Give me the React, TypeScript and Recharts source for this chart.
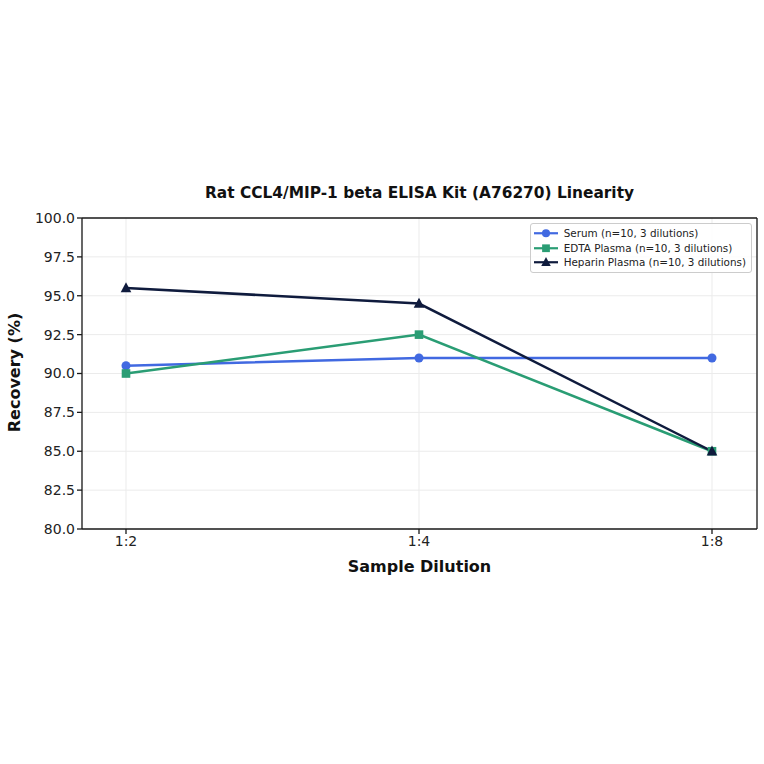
import React from 'react';
import { LineChart, Line, XAxis, YAxis, CartesianGrid, ReferenceLine } from 'recharts';

const dilutions = ['1:2', '1:4', '1:8'];
const serum = [90.5, 91.0, 91.0];
const edta = [90.0, 92.5, 85.0];
const heparin = [95.5, 94.5, 85.0];
const yTicks = [80, 82.5, 85, 87.5, 90, 92.5, 95, 97.5, 100];

const data = dilutions.map((d, i) => ({
  dilution: d,
  serum: serum[i],
  edta: edta[i],
  heparin: heparin[i],
}));

const SERIES = [
  { key: 'serum', name: 'Serum (n=10, 3 dilutions)', color: '#4169E1', shape: 'circle' },
  { key: 'edta', name: 'EDTA Plasma (n=10, 3 dilutions)', color: '#2A9D74', shape: 'square' },
  { key: 'heparin', name: 'Heparin Plasma (n=10, 3 dilutions)', color: '#0F1B3D', shape: 'triangle' },
];

const FONT = '"DejaVu Sans", sans-serif';
const AXIS = { stroke: '#1a1a1a', strokeWidth: 1.3 };

const Marker = ({ cx, cy, shape, color, s = 1 }: any) => {
  if (cx == null || cy == null) return null;
  if (shape === 'square') {
    return <rect x={cx - 4.3 * s} y={cy - 4.3 * s} width={8.6 * s} height={8.6 * s} fill={color} />;
  }
  if (shape === 'triangle') {
    return (
      <polygon
        points={`${cx},${cy - 5.8 * s} ${cx - 5.3 * s},${cy + 4.2 * s} ${cx + 5.3 * s},${cy + 4.2 * s}`}
        fill={color}
      />
    );
  }
  return <circle cx={cx} cy={cy} r={4.5 * s} fill={color} />;
};

// legend drawn as an overlay so it doesn't shrink the plot area
const LegendBox = () => (
  <div
    style={{
      position: 'absolute',
      top: 223,
      right: 12,
      border: '1px solid #cccccc',
      borderRadius: 3,
      background: 'rgba(255,255,255,0.85)',
      padding: '2px 5px 2px 2px',
      fontFamily: FONT,
      fontSize: 10.4,
      color: '#222',
      lineHeight: '14.5px',
    }}
  >
    {SERIES.map((s) => (
      <div key={s.key} style={{ display: 'flex', alignItems: 'center' }}>
        <svg width={26} height={14.5} style={{ marginRight: 5 }}>
          <line x1={1} y1={7.25} x2={25} y2={7.25} stroke={s.color} strokeWidth={2.2} />
          <Marker cx={13} cy={7.25} shape={s.shape} color={s.color} s={0.9} />
        </svg>
        <span>{s.name}</span>
      </div>
    ))}
  </div>
);

export default function App() {
  return (
    <div style={{ position: 'absolute', left: 0, top: 0, width: 764, height: 764, background: '#fff' }}>
      <LineChart
        width={764}
        height={764}
        data={data}
        margin={{ top: 218, right: 6, bottom: 205, left: 22 }}
      >
        <CartesianGrid stroke="#ebebeb" strokeWidth={1} />
        <XAxis
          dataKey="dilution"
          padding={{ left: 44, right: 45 }}
          height={30}
          tick={{ fill: '#222', fontSize: 14, fontFamily: FONT }}
          tickLine={AXIS}
          axisLine={AXIS}
          tickSize={5}
        />
        <YAxis
          domain={[80, 100]}
          ticks={yTicks}
          width={60}
          tickFormatter={(v: number) => v.toFixed(1)}
          tick={{ fill: '#222', fontSize: 14, fontFamily: FONT }}
          tickLine={AXIS}
          axisLine={AXIS}
          tickSize={5}
          interval={0}
        />
        {/* right-hand frame edge */}
        <YAxis
          yAxisId="right"
          orientation="right"
          domain={[80, 100]}
          width={1}
          tick={false}
          tickLine={false}
          axisLine={AXIS}
        />
        {/* top frame edge */}
        <ReferenceLine y={100} stroke="#1a1a1a" strokeWidth={1.3} />
        {SERIES.map((s) => (
          <Line
            key={s.key}
            dataKey={s.key}
            name={s.name}
            stroke={s.color}
            strokeWidth={2.5}
            isAnimationActive={false}
            dot={(p: any) => <Marker key={`${s.key}-${p.index}`} cx={p.cx} cy={p.cy} shape={s.shape} color={s.color} />}
            activeDot={false}
          />
        ))}
      </LineChart>
      <LegendBox />
      <div
        style={{
          position: 'absolute',
          top: 184,
          left: 82,
          width: 675,
          textAlign: 'center',
          fontFamily: FONT,
          fontWeight: 'bold',
          fontSize: 15.4,
          color: '#111',
        }}
      >
        Rat CCL4/MIP-1 beta ELISA Kit (A76270) Linearity
      </div>
      <div
        style={{
          position: 'absolute',
          top: 557,
          left: 82,
          width: 675,
          textAlign: 'center',
          fontFamily: FONT,
          fontWeight: 'bold',
          fontSize: 16,
          color: '#111',
        }}
      >
        Sample Dilution
      </div>
      <div
        style={{
          position: 'absolute',
          top: 363,
          left: 14 - 100,
          width: 200,
          textAlign: 'center',
          fontFamily: FONT,
          fontWeight: 'bold',
          fontSize: 16,
          color: '#111',
          transform: 'rotate(-90deg)',
          transformOrigin: '50% 50%',
        }}
      >
        Recovery (%)
      </div>
    </div>
  );
}
